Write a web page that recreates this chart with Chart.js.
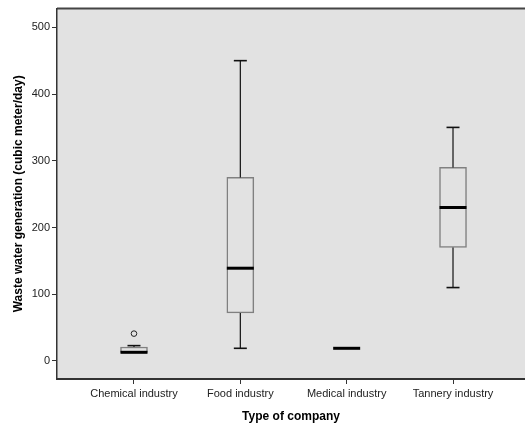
<!DOCTYPE html>
<html>
<head>
<meta charset="utf-8">
<script src="https://cdn.jsdelivr.net/npm/chart.js@4/dist/chart.umd.min.js"></script>
<style>
  html, body { margin: 0; padding: 0; background: #ffffff; }
  #wrap { width: 525px; height: 424px; position: relative; }
</style>
</head>
<body>
<div id="wrap"><canvas id="c" width="525" height="424"></canvas></div>
<script>
// Waste water generation by type of company (cubic meter/day)
const categories = ['Chemical industry', 'Food industry', 'Medical industry', 'Tannery industry'];
const whiskerLow  = [13, 19, 19, 110];
const quartile1   = [13, 72, 19, 170];
const medians     = [13, 139, 19, 230];
const quartile3   = [21, 275, 19, 290];
const whiskerHigh = [23, 450, 19, 350];
// Outliers as [category index, value]
const outliers = [[0, 41]];
const yTicks = [0, 100, 200, 300, 400, 500];

const AREA_BG = '#e2e2e2';
const TEXT = '#222222';
const FONT = "'Liberation Sans', Arial, Helvetica, sans-serif";

// Plot area background and top frame line
const frame = {
  id: 'frame',
  beforeDraw(chart) {
    const { ctx, chartArea: a } = chart;
    ctx.save();
    ctx.fillStyle = AREA_BG;
    ctx.fillRect(a.left, a.top, a.right - a.left, a.bottom - a.top);
    ctx.strokeStyle = '#444';
    ctx.lineWidth = 2;
    ctx.beginPath();
    ctx.moveTo(a.left, a.top);
    ctx.lineTo(a.right, a.top);
    ctx.stroke();
    ctx.restore();
  }
};

// Whiskers, caps and median lines, positioned through the chart scales
const boxParts = {
  id: 'boxParts',
  afterDatasetsDraw(chart) {
    const { ctx } = chart;
    const x = chart.scales.x, y = chart.scales.y;
    const bars = chart.getDatasetMeta(0).data;
    ctx.save();
    categories.forEach((_, i) => {
      const cx = x.getPixelForValue(i);
      const half = bars[i].width / 2;
      const capHalf = 6.5;
      const yLo = y.getPixelForValue(whiskerLow[i]);
      const yQ1 = y.getPixelForValue(quartile1[i]);
      const yQ3 = y.getPixelForValue(quartile3[i]);
      const yHi = y.getPixelForValue(whiskerHigh[i]);
      ctx.strokeStyle = '#111';
      ctx.lineWidth = 1.2;
      if (whiskerHigh[i] > quartile3[i]) {
        ctx.beginPath();
        ctx.moveTo(cx, yQ3); ctx.lineTo(cx, yHi);
        ctx.stroke();
        ctx.lineWidth = 1.6;
        ctx.beginPath();
        ctx.moveTo(cx - capHalf, yHi); ctx.lineTo(cx + capHalf, yHi);
        ctx.stroke();
      }
      ctx.lineWidth = 1.2;
      if (whiskerLow[i] < quartile1[i]) {
        ctx.beginPath();
        ctx.moveTo(cx, yQ1); ctx.lineTo(cx, yLo);
        ctx.stroke();
        ctx.lineWidth = 1.6;
        ctx.beginPath();
        ctx.moveTo(cx - capHalf, yLo); ctx.lineTo(cx + capHalf, yLo);
        ctx.stroke();
      }
      const yMed = y.getPixelForValue(medians[i]);
      ctx.strokeStyle = '#000';
      ctx.lineWidth = 3;
      ctx.beginPath();
      ctx.moveTo(cx - half, yMed); ctx.lineTo(cx + half, yMed);
      ctx.stroke();
    });
    ctx.restore();
  }
};

new Chart(document.getElementById('c'), {
  type: 'bar',
  data: {
    datasets: [
      {
        type: 'bar',
        data: categories.map((_, i) => ({ x: i, y: [quartile1[i], quartile3[i]] })),
        backgroundColor: AREA_BG,
        borderColor: '#808080',
        borderWidth: 1.5,
        borderSkipped: false,
        barThickness: 27
      },
      {
        type: 'scatter',
        data: outliers.map(([i, v]) => ({ x: i, y: v })),
        pointStyle: 'circle',
        pointRadius: 2.8,
        pointBorderWidth: 1,
        pointBorderColor: '#222',
        pointBackgroundColor: 'rgba(0,0,0,0)'
      }
    ]
  },
  options: {
    responsive: false,
    animation: false,
    events: [],
    layout: { autoPadding: false, padding: { top: 7, right: 0, left: 0, bottom: 0 } },
    plugins: { legend: { display: false }, tooltip: { enabled: false } },
    scales: {
      x: {
        type: 'linear',
        offset: false,
        min: -0.724,
        max: 3.677,
        afterBuildTicks(scale) { scale.ticks = categories.map((_, i) => ({ value: i })); },
        afterFit(scale) { scale.height = 45; scale.paddingRight = 0; scale.paddingLeft = 0; },
        grid: { display: true, offset: false, drawOnChartArea: false, drawTicks: true, tickLength: 5, color: '#333', lineWidth: 1 },
        border: { display: true, color: '#333', width: 2 },
        ticks: {
          autoSkip: false,
          maxRotation: 0,
          padding: 3,
          color: TEXT,
          font: { family: FONT, size: 11 },
          callback: (v) => categories[v] ?? ''
        },
        title: {
          display: true,
          text: 'Type of company',
          color: '#000',
          font: { family: FONT, size: 12, weight: 'bold' },
          padding: { top: 0, bottom: 0 }
        }
      },
      y: {
        type: 'linear',
        min: -27,
        max: 528,
        afterBuildTicks(scale) { scale.ticks = yTicks.map(v => ({ value: v })); },
        afterFit(scale) { scale.width = 57; },
        grid: { display: true, drawOnChartArea: false, drawTicks: true, tickLength: 5, color: '#333', lineWidth: 1 },
        border: { display: true, color: '#333', width: 1.5 },
        ticks: {
          padding: 2,
          color: TEXT,
          font: { family: FONT, size: 11 }
        },
        title: {
          display: true,
          text: 'Waste water generation (cubic meter/day)',
          color: '#000',
          font: { family: FONT, size: 12, weight: 'bold' },
          padding: { top: 11, bottom: 0 }
        }
      }
    }
  },
  plugins: [frame, boxParts]
});
</script>
</body>
</html>
